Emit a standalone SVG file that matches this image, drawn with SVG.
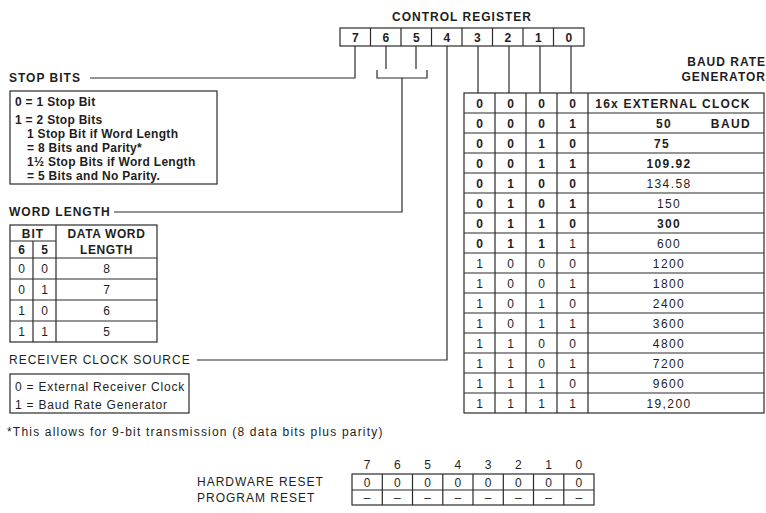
<svg xmlns="http://www.w3.org/2000/svg" width="766" height="513" viewBox="0 0 766 513">
<style>
text{font-family:"Liberation Sans",Arial,sans-serif;fill:#1e1e1e;font-size:12px}
.h{font-weight:bold;letter-spacing:1px}
.r{letter-spacing:1px}
.b{font-weight:bold}
.m{text-anchor:middle}
.e{text-anchor:end}
.v{letter-spacing:1.4px}
.bx{font-weight:bold;letter-spacing:0.3px}
.rx{letter-spacing:0.8px}
.ln{stroke:#2a2a2a;stroke-width:1.2;fill:none}
</style>
<rect width="766" height="513" fill="#ffffff"/>

<g id="control-register">
<text class="h m" x="462" y="21">CONTROL REGISTER</text>
<rect class="ln" x="340" y="28" width="244" height="18"/>
<path class="ln" d="M370.5,28V46M401,28V46M431.5,28V46M462,28V46M492.5,28V46M523,28V46M553.5,28V46"/>
<text class="m b" x="355.3" y="41.5">7</text>
<text class="m b" x="385.8" y="41.5">6</text>
<text class="m b" x="416.3" y="41.5">5</text>
<text class="m b" x="446.8" y="41.5">4</text>
<text class="m b" x="477.3" y="41.5">3</text>
<text class="m b" x="507.8" y="41.5">2</text>
<text class="m b" x="538.3" y="41.5">1</text>
<text class="m b" x="568.8" y="41.5">0</text>
</g>

<g id="connectors">
<path class="ln" d="M355,46V78H90"/>
<path class="ln" d="M386,46V69M416,46V69"/>
<path class="ln" d="M377,70V78H427V70"/>
<path class="ln" d="M402,78V212H114"/>
<path class="ln" d="M447,46V360H197"/>
<path class="ln" d="M478,46V93M509,46V93M540,46V93M571,46V93"/>
</g>

<g id="stop-bits">
<text class="h" x="9" y="82">STOP BITS</text>
<rect class="ln" x="10" y="91" width="207" height="93"/>
<text class="bx" x="15" y="106">0 = 1 Stop Bit</text>
<text class="bx" x="15" y="124">1 = 2 Stop Bits</text>
<text class="bx" x="27" y="138">1 Stop Bit if Word Length</text>
<text class="bx" x="27" y="152">= 8 Bits and Parity*</text>
<text class="bx" x="27" y="166">1½ Stop Bits if Word Length</text>
<text class="bx" x="27" y="180">= 5 Bits and No Parity.</text>
</g>

<g id="word-length">
<text class="h" x="9" y="216">WORD LENGTH</text>
<rect class="ln" x="10" y="225" width="147" height="117"/>
<path class="ln" d="M56,225V342M33,241V342M10,241H56M10,258H157M10,279H157M10,300H157M10,321H157"/>
<text class="m b" x="33" y="237.5" style="letter-spacing:1px">BIT</text>
<text class="m b" x="21.5" y="254">6</text>
<text class="m b" x="44.5" y="254">5</text>
<text class="m b" x="106.5" y="238" style="letter-spacing:0.6px">DATA WORD</text>
<text class="m b" x="106.5" y="254" style="letter-spacing:0.6px">LENGTH</text>
<text class="m" x="21.5" y="273">0</text><text class="m" x="44.5" y="273">0</text><text class="m" x="106.5" y="273">8</text>
<text class="m" x="21.5" y="294">0</text><text class="m" x="44.5" y="294">1</text><text class="m" x="106.5" y="294">7</text>
<text class="m" x="21.5" y="315">1</text><text class="m" x="44.5" y="315">0</text><text class="m" x="106.5" y="315">6</text>
<text class="m" x="21.5" y="336">1</text><text class="m" x="44.5" y="336">1</text><text class="m" x="106.5" y="336">5</text>
</g>

<g id="receiver-clock-source">
<text class="r" x="9" y="364">RECEIVER CLOCK SOURCE</text>
<rect class="ln" x="10" y="374" width="179" height="39"/>
<text class="rx" x="15" y="391">0 = External Receiver Clock</text>
<text class="rx" x="15" y="409">1 = Baud Rate Generator</text>
</g>

<g id="baud-rate-generator">
<text class="h e" x="766" y="66">BAUD RATE</text>
<text class="h e" x="766" y="81">GENERATOR</text>
<rect class="ln" x="464" y="93" width="300" height="320"/>
<path class="ln" d="M495,93V413M526,93V413M557,93V413M588,93V413"/>
<path class="ln" d="M464,113H764M464,133H764M464,153H764M464,173H764M464,193H764M464,213H764M464,233H764M464,253H764M464,273H764M464,293H764M464,313H764M464,333H764M464,353H764M464,373H764M464,393H764"/>
<text class="m b" x="479.5" y="107.5">0</text><text class="m b" x="510.5" y="107.5">0</text><text class="m b" x="541.5" y="107.5">0</text><text class="m b" x="572.5" y="107.5">0</text><text class="m b" x="673" y="107.5" style="letter-spacing:1.2px">16x EXTERNAL CLOCK</text>
<text class="m b" x="479.5" y="127.5">0</text><text class="m b" x="510.5" y="127.5">0</text><text class="m b" x="541.5" y="127.5">0</text><text class="m b" x="572.5" y="127.5">1</text><text class="m b v" x="664" y="127.5">50</text><text class="m b v" x="731" y="127.5">BAUD</text>
<text class="m b" x="479.5" y="147.5">0</text><text class="m b" x="510.5" y="147.5">0</text><text class="m b" x="541.5" y="147.5">1</text><text class="m b" x="572.5" y="147.5">0</text><text class="m b v" x="662" y="147.5">75</text>
<text class="m b" x="479.5" y="167.5">0</text><text class="m b" x="510.5" y="167.5">0</text><text class="m b" x="541.5" y="167.5">1</text><text class="m b" x="572.5" y="167.5">1</text><text class="m b v" x="669" y="167.5">109.92</text>
<text class="m b" x="479.5" y="187.5">0</text><text class="m b" x="510.5" y="187.5">1</text><text class="m b" x="541.5" y="187.5">0</text><text class="m b" x="572.5" y="187.5">0</text><text class="m v" x="669" y="187.5">134.58</text>
<text class="m b" x="479.5" y="207.5">0</text><text class="m b" x="510.5" y="207.5">1</text><text class="m b" x="541.5" y="207.5">0</text><text class="m b" x="572.5" y="207.5">1</text><text class="m v" x="669" y="207.5">150</text>
<text class="m b" x="479.5" y="227.5">0</text><text class="m b" x="510.5" y="227.5">1</text><text class="m b" x="541.5" y="227.5">1</text><text class="m b" x="572.5" y="227.5">0</text><text class="m b v" x="669" y="227.5">300</text>
<text class="m b" x="479.5" y="247.5">0</text><text class="m b" x="510.5" y="247.5">1</text><text class="m b" x="541.5" y="247.5">1</text><text class="m" x="572.5" y="247.5">1</text><text class="m v" x="669" y="247.5">600</text>
<text class="m" x="479.5" y="267.5">1</text><text class="m" x="510.5" y="267.5">0</text><text class="m" x="541.5" y="267.5">0</text><text class="m" x="572.5" y="267.5">0</text><text class="m v" x="669" y="267.5">1200</text>
<text class="m" x="479.5" y="287.5">1</text><text class="m" x="510.5" y="287.5">0</text><text class="m" x="541.5" y="287.5">0</text><text class="m" x="572.5" y="287.5">1</text><text class="m v" x="669" y="287.5">1800</text>
<text class="m" x="479.5" y="307.5">1</text><text class="m" x="510.5" y="307.5">0</text><text class="m" x="541.5" y="307.5">1</text><text class="m" x="572.5" y="307.5">0</text><text class="m v" x="669" y="307.5">2400</text>
<text class="m" x="479.5" y="327.5">1</text><text class="m" x="510.5" y="327.5">0</text><text class="m" x="541.5" y="327.5">1</text><text class="m" x="572.5" y="327.5">1</text><text class="m v" x="669" y="327.5">3600</text>
<text class="m" x="479.5" y="347.5">1</text><text class="m" x="510.5" y="347.5">1</text><text class="m" x="541.5" y="347.5">0</text><text class="m" x="572.5" y="347.5">0</text><text class="m v" x="669" y="347.5">4800</text>
<text class="m" x="479.5" y="367.5">1</text><text class="m" x="510.5" y="367.5">1</text><text class="m" x="541.5" y="367.5">0</text><text class="m" x="572.5" y="367.5">1</text><text class="m v" x="669" y="367.5">7200</text>
<text class="m" x="479.5" y="387.5">1</text><text class="m" x="510.5" y="387.5">1</text><text class="m" x="541.5" y="387.5">1</text><text class="m" x="572.5" y="387.5">0</text><text class="m v" x="669" y="387.5">9600</text>
<text class="m" x="479.5" y="407.5">1</text><text class="m" x="510.5" y="407.5">1</text><text class="m" x="541.5" y="407.5">1</text><text class="m" x="572.5" y="407.5">1</text><text class="m v" x="669" y="407.5">19,200</text>
</g>

<g id="footnote">
<text x="7" y="436" style="letter-spacing:1.2px">*This allows for 9-bit transmission (8 data bits plus parity)</text>
</g>

<g id="reset-states">
<text class="m" x="367" y="469">7</text><text class="m" x="397.3" y="469">6</text><text class="m" x="427.5" y="469">5</text><text class="m" x="457.8" y="469">4</text><text class="m" x="488" y="469">3</text><text class="m" x="518.3" y="469">2</text><text class="m" x="548.5" y="469">1</text><text class="m" x="578.8" y="469">0</text>
<text class="r" x="197" y="486">HARDWARE RESET</text>
<text class="r" x="197" y="502">PROGRAM RESET</text>
<rect class="ln" x="352" y="474" width="242" height="31"/>
<path class="ln" d="M352,490H594M382.3,474V505M412.5,474V505M442.8,474V505M473,474V505M503.3,474V505M533.5,474V505M563.8,474V505"/>
<text class="m" x="367" y="486.5">0</text><text class="m" x="397.3" y="486.5">0</text><text class="m" x="427.5" y="486.5">0</text><text class="m" x="457.8" y="486.5">0</text><text class="m" x="488" y="486.5">0</text><text class="m" x="518.3" y="486.5">0</text><text class="m" x="548.5" y="486.5">0</text><text class="m" x="578.8" y="486.5">0</text>
<text class="m" x="367" y="502">–</text><text class="m" x="397.3" y="502">–</text><text class="m" x="427.5" y="502">–</text><text class="m" x="457.8" y="502">–</text><text class="m" x="488" y="502">–</text><text class="m" x="518.3" y="502">–</text><text class="m" x="548.5" y="502">–</text><text class="m" x="578.8" y="502">–</text>
</g>
</svg>
